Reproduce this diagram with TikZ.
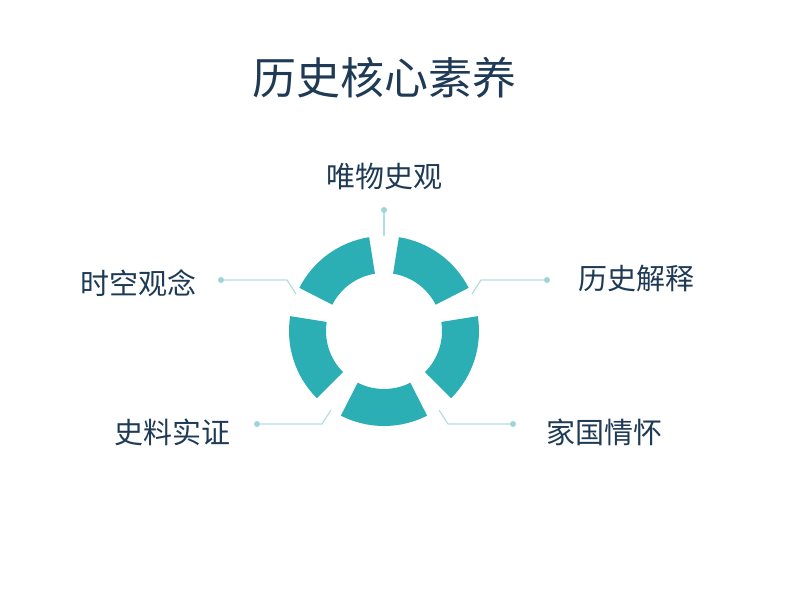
\documentclass[tikz,border=0pt]{standalone}
\usepackage{fontspec}
\newfontfamily\cjk{Noto Sans CJK SC}
\begin{document}
\begin{tikzpicture}[x=1pt,y=-1pt,
  seg/.style={fill=segc,draw=none},
  lead/.style={draw=leadc,line width=1.2pt},
  dotn/.style={circle,fill=dotc,inner sep=0pt,minimum size=6pt},
  lab/.style={font=\cjk\fontsize{29}{32}\selectfont,text=txtc,inner sep=0pt},
  ttl/.style={font=\cjk\fontsize{44}{48}\selectfont,text=txtc,inner sep=0pt}]
\definecolor{segc}{HTML}{2BAFB5}
\definecolor{leadc}{HTML}{B3DEE0}
\definecolor{dotc}{HTML}{9FD5D8}
\definecolor{txtc}{HTML}{1E3A55}
\useasboundingbox (0,0) rectangle (800,614);
\node[ttl] (title) at (384,78) {历史核心素养};
\coordinate (c) at (384,331);
\foreach \a/\n in {90/top,162/left,234/bl,306/br,18/right}{
  \fill[seg] ([shift={(\a-27:95)}]c) arc[start angle=\a-27,end angle=\a+27,radius=95]
    -- ([shift={(\a+27:58)}]c) arc[start angle=\a+27,end angle=\a-27,radius=58] -- cycle;
}
% y axis inverted: angles measured clockwise visually, so compute with yscale
\node[dotn] (d1) at (384,210) {};
\coordinate (e1) at (384,236);
\draw[lead] (d1) -- (e1);
\node[dotn] (d2) at (221,280) {};
\coordinate (k2) at (287,280); \coordinate (e2) at (296,294);
\draw[lead] (d2) -- (k2) -- (e2);
\node[dotn] (d3) at (547,280) {};
\coordinate (k3) at (481,280); \coordinate (e3) at (472,294);
\draw[lead] (d3) -- (k3) -- (e3);
\node[dotn] (d4) at (257,424) {};
\coordinate (k4) at (322,424); \coordinate (e4) at (331,410);
\draw[lead] (d4) -- (k4) -- (e4);
\node[dotn] (d5) at (513,424) {};
\coordinate (k5) at (448,424); \coordinate (e5) at (439,410);
\draw[lead] (d5) -- (k5) -- (e5);
\node[lab] (l1) at (384,176) {唯物史观};
\node[lab] (l2) at (138,283) {时空观念};
\node[lab] (l3) at (636,279) {历史解释};
\node[lab] (l4) at (172,432) {史料实证};
\node[lab] (l5) at (604,432) {家国情怀};
\end{tikzpicture}
\end{document}
